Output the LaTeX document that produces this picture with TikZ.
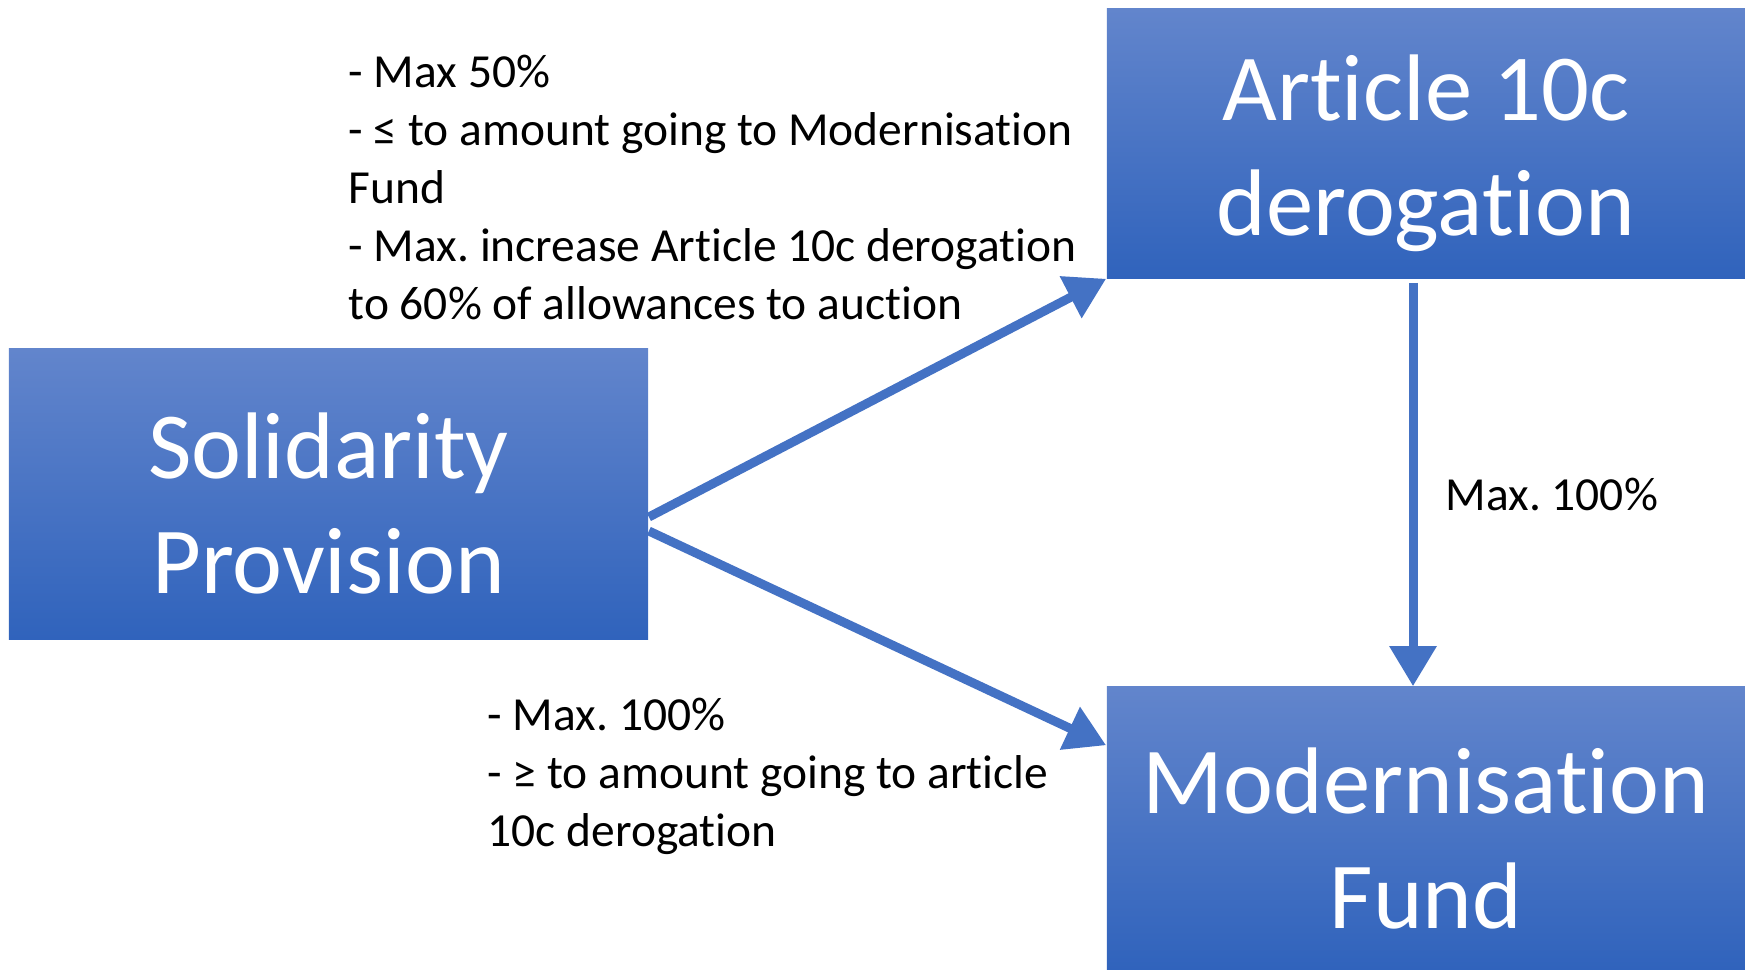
\documentclass[tikz,border=0pt]{standalone}
\usepackage{fontspec}
\setmainfont{Carlito}[Ligatures=NoCommon]
\usetikzlibrary{positioning, arrows.meta, calc}
\definecolor{boxtop}{RGB}{98,133,204}
\definecolor{boxbot}{RGB}{48,99,188}
\definecolor{flowc}{RGB}{68,114,196}
\newcommand{\topstrut}{\rule{0pt}{0.85cm}}
\frenchspacing

\begin{document}
\begin{tikzpicture}[x=0.01cm, y=-0.01cm,
    bigbox/.style={rectangle, inner sep=0, top color=boxtop, bottom color=boxbot,
      text=white, align=center, font=\fontsize{26.9pt}{32.7pt}\selectfont},
    note/.style={inner sep=0, align=left, font=\fontsize{13.5pt}{16.5pt}\selectfont},
    flow/.style={-{Triangle[width=0.45cm, length=0.4cm]}, draw=flowc, line width=0.09cm}]
  \useasboundingbox (0,0) rectangle (1745,970);
  \node [bigbox, minimum width=6.39cm, minimum height=2.9cm] (solidarity) at (328.5,494)
    {\topstrut Solidarity\\Provision};
  \node [bigbox, minimum width=6.38cm, minimum height=2.69cm] (article) at (1426,143.5)
    {\topstrut Article 10c\\derogation};
  \node [bigbox, minimum width=6.38cm, minimum height=2.83cm] (fund) at (1426,828.5)
    {\topstrut Modernisation\\Fund};
  \node [note, anchor=north west] (upnote) at (348,54)
    {- Max 50\%\\- ≤ to amount going to Modernisation\\Fund\\
     - Max. increase Article 10c derogation\\to 60\% of allowances to auction};
  \node [note, anchor=north west] (downnote) at (487,697)
    {- Max. 100\%\\- ≥ to amount going to article\\10c derogation};
  \node [note, anchor=west] (vnote) at (1445,495) {Max. 100\%};
  \draw [flow] ([yshift=-0.23cm]solidarity.east) -- (article.south west);
  \draw [flow] ([yshift=-0.37cm]solidarity.east) -- ([yshift=-0.59cm]fund.north west);
  \draw [flow, shorten <=0.04cm] ([xshift=-0.13cm]article.south) -- ([xshift=-0.13cm]fund.north);
\end{tikzpicture}
\end{document}
